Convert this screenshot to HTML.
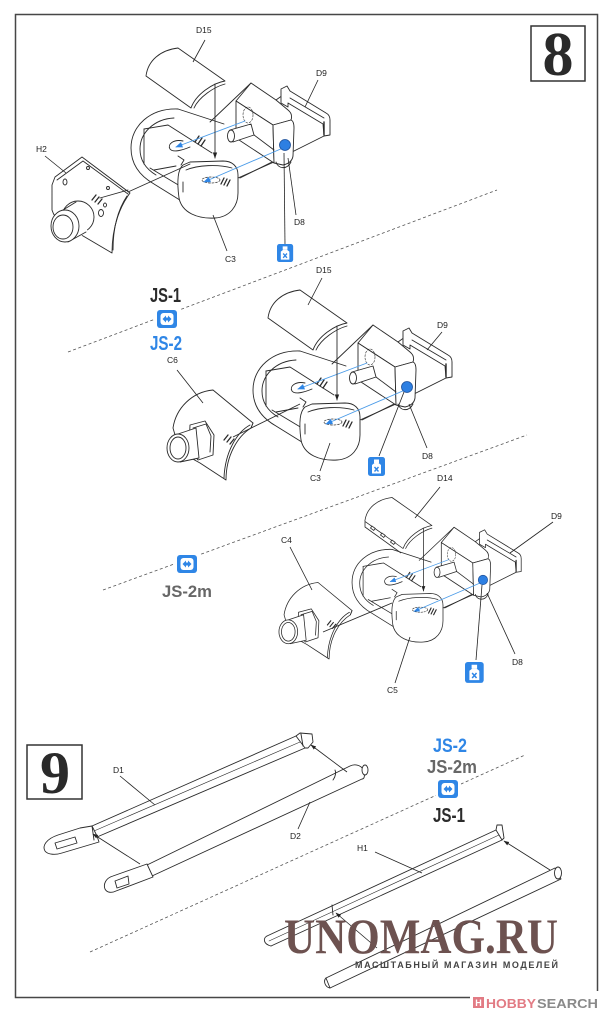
<!DOCTYPE html>
<html><head><meta charset="utf-8">
<style>
html,body{margin:0;padding:0;background:#fff;}
svg{display:block;}
</style></head><body>
<svg width="609" height="1020" viewBox="0 0 609 1020" xmlns="http://www.w3.org/2000/svg">
<defs>
<marker id="ah" viewBox="0 0 10 10" refX="9" refY="5" markerWidth="7" markerHeight="7" orient="auto"><path d="M0,1.5 L10,5 L0,8.5 Z" fill="#222"/></marker>
<marker id="bh" viewBox="0 0 10 10" refX="9" refY="5" markerWidth="8" markerHeight="8" orient="auto"><path d="M0,1 L10,5 L0,9 Z" fill="#2f86e6"/></marker>

<g id="asm" fill="#fff" stroke="#2a2a2a" stroke-width="0.9" stroke-linejoin="round" stroke-linecap="round">
  <!-- long chassis line behind -->
  <path fill="none" d="M452,375 L362,420"/>
  <!-- shell -->
  <path fill="none" d="M300,351 C272,350 253,368 253,390 C253,407 262,418 276,426 L305,444"/>
  <path fill="none" d="M296,360 C276,361 262,375 262,391 C262,403 268,411 278,417"/>
  <path fill="none" d="M300,351 L346,366"/>
  <path fill="none" d="M266,371 L290,367 L334,395"/>
  <path fill="none" d="M266,371 L266,406"/>
  <path fill="none" d="M272,410 L302,428"/>
  <path fill="none" d="M305,383 C296,381 289,386 292,391 C295,395 305,392 312,389"/>
  <path fill="none" d="M300,398 L306,402 L303,407"/>
  <path fill="none" d="M276,412 L298,408"/>
  <!-- chassis top edge to block -->
  <path fill="none" d="M332,364 L373,325"/>
  <!-- block -->
  <path d="M358,343 L373,325 L398,342 L410,352 Q415,356 413,362 L395,367 Z"/>
  <path d="M358,343 L395,367 L396,405 L358,380 Z"/>
  <path d="M395,367 L413,362 Q416,363 416,370 L415,398 Q414,405 405,407 L396,405 Z"/>
  <ellipse cx="370" cy="357" rx="5" ry="8" fill="none" stroke-dasharray="2 1.5" stroke-width="0.6"/>
  <path fill="none" d="M398,342 L405,337"/>
  <!-- D9 -->
  <path d="M403,331 L409,328 L412,333 L448,355 Q452,357 452,362 L452,377 L446,378 L445,366 L410,345 L410,349 L403,345 Z"/>
  <path fill="none" d="M412,340 L446,360"/>
  <path fill="none" stroke-width="1.4" d="M446,364 L446,377"/>
  <!-- pin -->
  <path d="M352,372 L373,366 L376,377 L355,384 Z"/>
  <ellipse cx="353" cy="378" rx="3.5" ry="6"/>
  <path fill="none" d="M376,377 L396,392"/>
  <!-- D8 holder -->
  <path fill="none" d="M398,404 C400,411 409,412 413,404"/>
  <!-- C3 front -->
  <path d="M305,407 C299,412 299,425 301,440 C304,455 320,461 337,460 C352,459 360,448 360,435 L360,417 C360,408 354,403 345,403 L312,404 Z"/>
  <path fill="none" d="M308,412 C320,407 340,406 354,410"/>
  <path fill="none" d="M305,424 L305,434"/>
  <ellipse cx="333" cy="422" rx="9" ry="3" fill="none" stroke-dasharray="2 1.5" stroke-width="0.7"/>
  <path fill="none" d="M360,420 L396,404"/>
  <!-- small arrow marks -->
  <path fill="none" stroke-width="1.3" d="M317,384 L321,378 M320,386 L324,380 M323,388 L327,382"/>
  <path fill="none" stroke-width="1.3" d="M343,426 L346,420 M346,427 L349,421 M349,428 L352,422"/>
  <!-- blue guide lines -->
  <path fill="none" stroke="#4a9be8" stroke-width="0.9" d="M367,363 L298,389" marker-end="url(#bh)"/>
  <path fill="none" stroke="#4a9be8" stroke-width="0.9" d="M405,390 L326,424" marker-end="url(#bh)"/>
  <!-- D8 dot -->
  <circle cx="407" cy="387" r="5.5" fill="#2d7fe2" stroke="#1c4f9a" stroke-width="0.8"/>
  <!-- top panel -->
  <path d="M268,318 C270,302 283,292 300,290 L347,323 C335,325 318,336 313,350 Z"/>
  <path fill="none" d="M347,326 C336,329 321,339 316,350"/>
  <path fill="none" d="M337,326 L337,400" marker-end="url(#ah)"/>
</g>

<g id="c6" fill="#fff" stroke="#2a2a2a" stroke-width="0.9" stroke-linejoin="round" stroke-linecap="round">
  <path d="M173,428 C176,408 192,392 213,390 L253,423 L251,428 C238,436 226,455 226,480 L200,463 L180,452 Z"/>
  <path fill="none" d="M251,428 L253,423"/>
  <path fill="none" d="M250,425 C237,432 225,452 224,478"/>
  <path d="M190,425 L205,421 L214,435 L213,455 L198,460 L189,447 Z"/>
  <path fill="none" d="M193,428 L206,424 L211,436 L210,452"/>
  <path d="M178,434 L196,428 L199,458 L180,462 Z"/>
  <ellipse cx="178" cy="448" rx="11" ry="14"/>
  <ellipse cx="178" cy="448" rx="8" ry="11"/>
  <path fill="none" stroke-width="1.3" d="M224,440 L228,435 M227,442 L231,437 M230,444 L234,439"/>
</g>

<g id="jsicon">
  <rect x="0" y="0" width="20" height="18" rx="3" fill="#2f86e6"/>
  <rect x="3.5" y="3" width="13" height="12" rx="3" fill="#fff"/>
  <path d="M5.5,9 L9,5.5 L9,7.5 L11,7.5 L11,5.5 L14.5,9 L11,12.5 L11,10.5 L9,10.5 L9,12.5 Z" fill="#2f86e6"/>
</g>
<g id="paint">
  <rect x="0" y="0" width="17" height="19" rx="2.5" fill="#2f86e6"/>
  <rect x="6" y="2.5" width="5" height="3.5" fill="#fff"/>
  <path d="M4,8 L6.5,6 L10.5,6 L13,8 L13,16.5 L4,16.5 Z" fill="#fff"/>
  <path d="M6.5,10 L10.5,14.5 M10.5,10 L6.5,14.5" stroke="#2f86e6" stroke-width="1.4"/>
</g>
</defs>

<!-- frame -->
<rect x="15.5" y="14.5" width="582" height="983" fill="none" stroke="#474747" stroke-width="1.5"/>

<!-- step 8 box -->
<rect x="531" y="26" width="54" height="55" fill="none" stroke="#333" stroke-width="1.5"/>
<text x="558" y="75" font-family="Liberation Serif, serif" font-weight="bold" font-size="62" fill="#2a2a2a" text-anchor="middle">8</text>

<!-- dashed separators -->
<g stroke="#555" stroke-width="0.8" stroke-dasharray="3 2.5" fill="none">
  <path d="M68,352 L497,190"/>
  <path d="M103,590 L527,435"/>
  <path d="M90,952 L525,755"/>
</g>

<!-- ===== Assembly 1 ===== -->
<use href="#asm" transform="translate(-122,-242)"/>
<!-- H2 -->
<g fill="#fff" stroke="#2a2a2a" stroke-width="0.9" stroke-linejoin="round" stroke-linecap="round">
  <path d="M55,177 L82,157 L130,193 C121,205 112,225 112,253 L78,233 C65,228 55,220 52,210 L52,185 Z"/>
  <path fill="none" d="M57,180 L83,161 L128,194"/>
  <path fill="none" d="M127,196 C119,208 113,226 113,250"/>
  <circle cx="78" cy="217" r="16"/>
  <path d="M64,210 L76,203 L88,232 L70,242 Z" stroke="none"/>
  <path fill="none" d="M63,210 L76,202 M68,242 L86,232"/>
  <ellipse cx="65" cy="226" rx="14" ry="16"/>
  <ellipse cx="63" cy="227" rx="10" ry="12"/>
  <ellipse cx="65" cy="182" rx="2" ry="3"/>
  <circle cx="88" cy="168" r="1.5"/>
  <circle cx="108" cy="188" r="1.5"/>
  <ellipse cx="101" cy="213" rx="2.5" ry="3.5"/>
  <ellipse cx="105" cy="205" rx="1.5" ry="2"/>
  <path fill="none" stroke-width="1.3" d="M92,200 L96,195 M95,202 L99,197 M98,204 L102,199"/>
  <path fill="none" d="M100,198 L128,190"/>
  <path fill="none" d="M128,192 L190,164"/>
</g>
<g font-family="Liberation Sans, sans-serif" font-size="8.5" fill="#222">
  <text x="196" y="33">D15</text>
  <text x="316" y="76">D9</text>
  <text x="294" y="225">D8</text>
  <text x="225" y="262">C3</text>
  <text x="36" y="152">H2</text>
</g>
<g stroke="#222" stroke-width="0.8" fill="none">
  <path d="M205,40 L193,62"/>
  <path d="M318,80 L305,107"/>
  <path d="M296,215 L288,158"/>
  <path d="M227,251 L213,215"/>
  <path d="M45,156 L66,173"/>
  <path d="M285,245 L284,153"/>
</g>
<use href="#paint" transform="translate(277,244) scale(0.95)"/>

<!-- ===== Assembly 2 ===== -->
<use href="#asm"/>
<use href="#c6"/>
<g stroke="#2a2a2a" stroke-width="0.9" fill="none"><path d="M233,437 L300,404"/></g>
<g font-family="Liberation Sans, sans-serif" font-size="8.5" fill="#222">
  <text x="316" y="273">D15</text>
  <text x="437" y="328">D9</text>
  <text x="422" y="459">D8</text>
  <text x="310" y="481">C3</text>
  <text x="167" y="363">C6</text>
</g>
<g stroke="#222" stroke-width="0.8" fill="none">
  <path d="M322,278 L308,305"/>
  <path d="M442,332 L427,350"/>
  <path d="M427,448 L409,404"/>
  <path d="M320,471 L330,443"/>
  <path d="M177,370 L203,403"/>
  <path d="M379,456 L404,392"/>
</g>
<use href="#paint" transform="translate(368,457)"/>
<!-- JS labels -->
<g font-family="Liberation Sans, sans-serif" font-weight="bold">
  <text x="150" y="302" font-size="20" fill="#2b2b2b" textLength="31" lengthAdjust="spacingAndGlyphs">JS-1</text>
  <text x="150" y="350" font-size="20" fill="#2f86e6" textLength="32" lengthAdjust="spacingAndGlyphs">JS-2</text>
</g>
<rect x="155" y="309" width="24" height="21" fill="#fff"/>
<use href="#jsicon" transform="translate(157,310)"/>

<!-- ===== Assembly 3 ===== -->
<use href="#asm" transform="matrix(0.85 0 0 0.85 137 251)"/>
<g fill="#fff" stroke="#2a2a2a" stroke-width="0.8">
  <path fill="none" d="M365,522 L365,527 L401,553"/>
  <rect x="371" y="527" width="4" height="2.5" transform="rotate(36 373 528)"/>
  <rect x="381" y="534" width="4" height="2.5" transform="rotate(36 383 535)"/>
  <rect x="391" y="541" width="4" height="2.5" transform="rotate(36 393 542)"/>
</g>
<use href="#c6" transform="matrix(0.85 0 0 0.85 137 251)"/>
<g stroke="#2a2a2a" stroke-width="0.9" fill="none"><path d="M323,632 L392,603"/></g>
<g font-family="Liberation Sans, sans-serif" font-size="8.5" fill="#222">
  <text x="437" y="481">D14</text>
  <text x="551" y="519">D9</text>
  <text x="512" y="665">D8</text>
  <text x="387" y="693">C5</text>
  <text x="281" y="543">C4</text>
</g>
<g stroke="#222" stroke-width="0.8" fill="none">
  <path d="M440,487 L415,518"/>
  <path d="M553,522 L510,553"/>
  <path d="M515,654 L487,593"/>
  <path d="M395,683 L410,637"/>
  <path d="M290,547 L312,590"/>
  <path d="M476,660 L482,585"/>
</g>
<use href="#paint" transform="translate(465,662) scale(1.1)"/>
<rect x="175" y="553" width="25" height="22" fill="#fff"/>
<use href="#jsicon" transform="translate(177,555)"/>
<text x="162" y="597" font-family="Liberation Sans, sans-serif" font-weight="bold" font-size="16.5" fill="#676767" textLength="50" lengthAdjust="spacingAndGlyphs">JS-2m</text>

<!-- ===== Step 9 ===== -->
<rect x="27" y="745" width="55" height="54" fill="none" stroke="#333" stroke-width="1.5"/>
<text x="55" y="793" font-family="Liberation Serif, serif" font-weight="bold" font-size="60" fill="#2a2a2a" text-anchor="middle">9</text>

<g fill="#fff" stroke="#2a2a2a" stroke-width="0.9" stroke-linejoin="round" stroke-linecap="round">
  <!-- D1 -->
  <path fill="none" d="M92,826 L296,736"/>
  <path fill="none" stroke-width="0.6" d="M94,831 L300,742"/>
  <path fill="none" d="M97,837 L305,748"/>
  <path d="M296,736 L300,733 L312,734 L313,742 L308,748 L305,748 Z"/>
  <path fill="none" d="M301,734 L303,746"/>
  <path d="M92,826 L80,828 L58,835 C46,839 42,846 45,851 C48,855 56,855 62,853 L99,842 L97,836 Z"/>
  <path d="M55,843 L75,837 L77,843 L57,849 Z"/>
  <path fill="none" d="M92,826 L94,840"/>
  <!-- D2 -->
  <path d="M147,865 L350,766 C356,763 363,766 364,772 C365,777 364,779 362,779 L152,876 Z"/>
  <ellipse cx="365" cy="770" rx="3" ry="5"/>
  <path fill="none" d="M333,780 C336,776 336,772 335,770"/>
  <path d="M147,864 L113,876 C106,878 103,884 105,889 C107,893 112,893 116,891 L153,877 Z"/>
  <path d="M115,881 L128,876 L129,884 L117,888 Z"/>
  <!-- H1 -->
  <path fill="none" d="M267,936 L496,830"/>
  <path fill="none" stroke-width="0.6" d="M269,941 L499,835"/>
  <path fill="none" d="M271,946 L502,840"/>
  <path fill="none" d="M267,936 C263,938 263,944 271,946"/>
  <path d="M496,830 L497,825 L502,825 L504,838 L502,840 Z"/>
  <path fill="none" d="M332,905 L333,915"/>
  <!-- H1 barrel -->
  <path d="M326,978 L555,868 L561,879 L330,988 Z"/>
  <ellipse cx="558" cy="873" rx="3.5" ry="6"/>
  <path fill="none" d="M326,978 C323,981 325,987 330,988"/>
</g>
<g stroke="#222" stroke-width="0.8" fill="none">
  <path d="M140,864 L93,834" marker-end="url(#ah)"/>
  <path d="M347,772 L311,745" marker-end="url(#ah)"/>
  <path d="M550,870 L504,841" marker-end="url(#ah)"/>
  <path d="M377,948 L336,913" marker-end="url(#ah)"/>
  <path d="M120,776 L155,805"/>
  <path d="M298,829 L310,802"/>
  <path d="M375,852 L422,873"/>
</g>
<g font-family="Liberation Sans, sans-serif" font-size="8.5" fill="#222">
  <text x="113" y="773">D1</text>
  <text x="290" y="839">D2</text>
  <text x="357" y="851">H1</text>
</g>
<g font-family="Liberation Sans, sans-serif" font-weight="bold">
  <text x="433" y="752" font-size="19" fill="#2f86e6" textLength="34" lengthAdjust="spacingAndGlyphs">JS-2</text>
  <text x="427" y="773" font-size="18" fill="#676767" textLength="50" lengthAdjust="spacingAndGlyphs">JS-2m</text>
  <text x="433" y="822" font-size="20" fill="#2b2b2b" textLength="32" lengthAdjust="spacingAndGlyphs">JS-1</text>
</g>
<rect x="436" y="778" width="25" height="22" fill="#fff"/>
<use href="#jsicon" transform="translate(438,780)"/>

<!-- watermark -->
<text x="284" y="953" font-family="Liberation Serif, serif" font-weight="bold" font-size="50" fill="#6d5250" textLength="274" lengthAdjust="spacingAndGlyphs">UNOMAG.RU</text>
<text x="355" y="968" font-family="Liberation Sans, sans-serif" font-weight="bold" font-size="9" fill="#444" textLength="203" lengthAdjust="spacing">МАСШТАБНЫЙ МАГАЗИН МОДЕЛЕЙ</text>

<!-- hobby search -->
<rect x="470" y="991" width="135" height="20" fill="#fff"/>
<rect x="473" y="997" width="11" height="11" fill="#e27b84"/>
<text x="478.5" y="1006" font-family="Liberation Sans, sans-serif" font-weight="bold" font-size="9" fill="#fff" text-anchor="middle">H</text>
<text x="486" y="1008" font-family="Liberation Sans, sans-serif" font-weight="bold" font-size="13" fill="#e27b84" textLength="50" lengthAdjust="spacingAndGlyphs">HOBBY</text>
<text x="537" y="1008" font-family="Liberation Sans, sans-serif" font-weight="bold" font-size="13" fill="#8a8a8a" textLength="61" lengthAdjust="spacingAndGlyphs">SEARCH</text>
</svg>
</body></html>
